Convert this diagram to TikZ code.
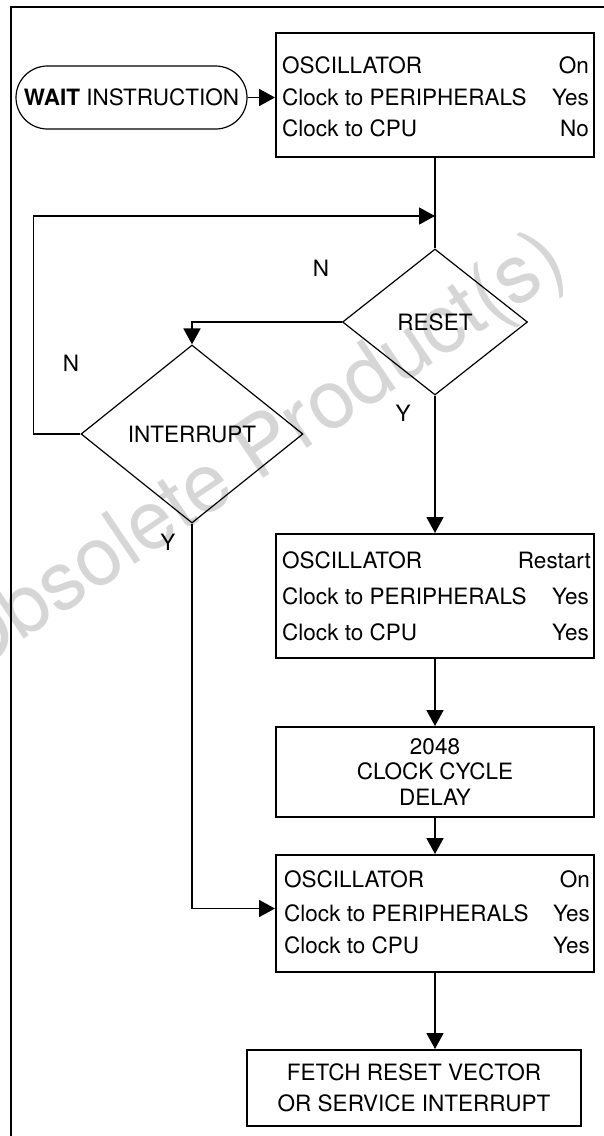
\documentclass[tikz,border=0pt]{standalone}
\usepackage{fontspec}
\setmainfont{TeX Gyre Heros}
\usetikzlibrary{arrows.meta,shapes.geometric,calc,positioning}

\begin{document}
\begin{tikzpicture}[x=1pt, y=-1pt,
  every node/.style={font=\fontsize{22.5}{25.5}\selectfont, inner sep=0pt},
  box/.style={draw, line width=2pt, minimum width=318pt, minimum height=124pt},
  dec/.style={draw, diamond, line width=1.2pt},
  link/.style={line width=1.8pt},
  arr/.style={link, -{Triangle[length=16pt,width=17pt]}}]
\useasboundingbox (0,0) rectangle (603,1136);
% watermark
\node[rotate=34, text=black!16, font=\fontsize{82}{84}\selectfont] (wm) at (257,456) {Obsolete Product(s)};
% frame
\draw[line width=2pt] (11,1145) -- (11,7) -- (612,7);
% start
\node[draw, line width=1.2pt, rounded corners=31.5pt, minimum width=231pt, minimum height=63pt] (wait) at (131.5,97.5) {\textbf{WAIT} INSTRUCTION};
% wait mode
\node[box] (osc1) at (435,95) {};
\node[anchor=base west] (osc1a) at (282,73) {OSCILLATOR};
\node[anchor=base east] (osc1b) at (589,73) {On};
\node[anchor=base west] (osc1c) at (282,105) {Clock to PERIPHERALS};
\node[anchor=base east] (osc1d) at (589,105) {Yes};
\node[anchor=base west] (osc1e) at (282,136) {Clock to CPU};
\node[anchor=base east] (osc1f) at (589,136) {No};
% decisions
\coordinate (join) at (435,216);
\node[dec, minimum width=185pt, minimum height=146pt] (reset) at (435,322) {RESET};
\node[dec, minimum width=222pt, minimum height=178pt] (intr) at (192,434) {INTERRUPT};
\node (rstn) at (321,268) {N};
\node (rsty) at (403,413) {Y};
\node (intn) at (71,363) {N};
\node (inty) at (168,542) {Y};
% restart
\node[box] (osc2) at (435,596) {};
\node[anchor=base west] (osc2a) at (282,568) {OSCILLATOR};
\node[anchor=base east] (osc2b) at (591,568) {Restart};
\node[anchor=base west] (osc2c) at (282,604) {Clock to PERIPHERALS};
\node[anchor=base east] (osc2d) at (589,604) {Yes};
\node[anchor=base west] (osc2e) at (282,640) {Clock to CPU};
\node[anchor=base east] (osc2f) at (589,640) {Yes};
\node[box, minimum height=90pt, align=center] (delay) at (435,772) {2048\\CLOCK CYCLE\\DELAY};
% running
\node[box, minimum height=117pt] (osc3) at (435,913.5) {};
\node[anchor=base west] (osc3a) at (284,887) {OSCILLATOR};
\node[anchor=base east] (osc3b) at (590,887) {On};
\node[anchor=base west] (osc3c) at (284,921) {Clock to PERIPHERALS};
\node[anchor=base east] (osc3d) at (590,921) {Yes};
\node[anchor=base west] (osc3e) at (284,953) {Clock to CPU};
\node[anchor=base east] (osc3f) at (590,953) {Yes};
\node[box, minimum width=334pt, minimum height=76pt, align=center, font=\fontsize{22.5}{31}\selectfont] (fetch) at (414,1088) {FETCH RESET VECTOR\\OR SERVICE INTERRUPT};
% connectors
\draw[arr] (wait.east) -- (wait.east -| osc1.west);
\draw[link] (osc1.south) -- (reset.north);
\draw[arr] (intr.west) -- ++(-47,0) |- (join);
\draw[arr] (reset.west) -| (intr.north);
\draw[arr] (reset.south) -- (osc2.north);
\draw[arr] (osc2.south) -- (delay.north);
\draw[arr] (delay.south) -- (osc3.north);
\draw[arr] (intr.south) |- ([yshift=5pt]osc3.west);
\draw[arr] (osc3.south) -- (osc3.south |- fetch.north);
\end{tikzpicture}
\end{document}
